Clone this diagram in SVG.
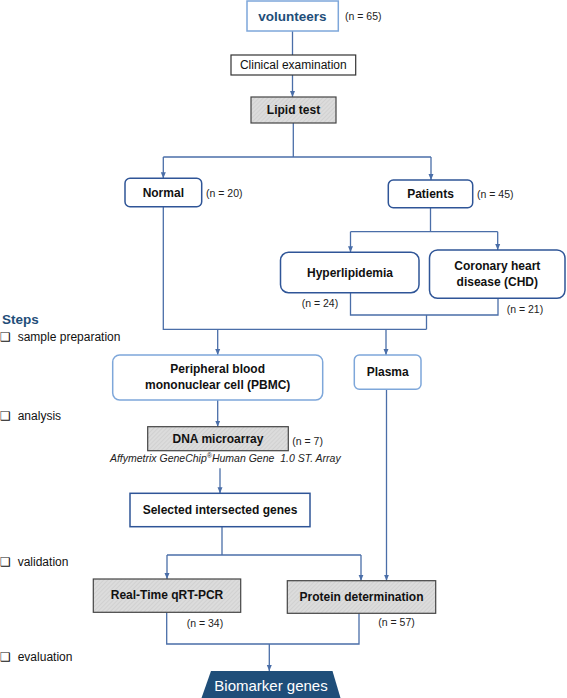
<svg xmlns="http://www.w3.org/2000/svg" width="567" height="698" viewBox="0 0 567 698">
<defs>
<pattern id="hatch" width="3" height="3" patternUnits="userSpaceOnUse" patternTransform="rotate(45)">
<rect width="3" height="3" fill="#dcdcdc"/>
<line x1="0" y1="0" x2="0" y2="3" stroke="#c6c6c6" stroke-width="1"/>
</pattern>
<marker id="arr" markerUnits="userSpaceOnUse" markerWidth="6" markerHeight="6" refX="6" refY="3" orient="auto">
<path d="M0,0.5 L6,3 L0,5.5 z" fill="#4a6ea8"/>
</marker>
</defs>
<style>
text{font-family:"Liberation Sans",Arial,sans-serif;fill:#111;dominant-baseline:central}
.c{text-anchor:middle}
.b{font-weight:bold;font-size:12px}
.n{font-size:10.5px;fill:#222}
.s{font-size:12px}
.box-light{fill:#fff;stroke:#7ea7da;stroke-width:1.5}
.box-dark{fill:#fff;stroke:#2f5597;stroke-width:1.5}
.box-gray{fill:url(#hatch);stroke:#444;stroke-width:1.2}
.box-plain{fill:#fff;stroke:#333;stroke-width:1.2}
.conn line,.conn polyline{stroke:#4a6ea8;stroke-width:1.3;fill:none}
.chk{font-family:"DejaVu Sans",sans-serif;font-size:12px}
</style>

<g class="conn">
<line x1="292.5" y1="31" x2="292.5" y2="55"/>
<line x1="292.5" y1="75" x2="292.5" y2="97" marker-end="url(#arr)"/>
<line x1="293.3" y1="123" x2="293.3" y2="157"/>
<line x1="163.3" y1="157" x2="431" y2="157"/>
<line x1="163.3" y1="157" x2="163.3" y2="178.3" marker-end="url(#arr)"/>
<line x1="431" y1="157" x2="431" y2="180" marker-end="url(#arr)"/>
<line x1="430.5" y1="207.7" x2="430.5" y2="231.7"/>
<line x1="350.5" y1="231.7" x2="497.7" y2="231.7"/>
<line x1="350.5" y1="231.7" x2="350.5" y2="252.3" marker-end="url(#arr)"/>
<line x1="497.7" y1="231.7" x2="497.7" y2="250" marker-end="url(#arr)"/>
<polyline points="350.5,292.7 350.5,315 498,315 498,298.3"/>
<line x1="426.5" y1="315" x2="426.5" y2="329.3"/>
<polyline points="163.3,206.7 163.3,329.3 426.5,329.3"/>
<line x1="217.7" y1="329.3" x2="217.7" y2="355" marker-end="url(#arr)"/>
<line x1="386" y1="329.3" x2="386" y2="355" marker-end="url(#arr)"/>
<line x1="217.7" y1="400" x2="217.7" y2="426.7" marker-end="url(#arr)"/>
<line x1="220" y1="468.3" x2="220" y2="493.3" marker-end="url(#arr)"/>
<line x1="222" y1="526.7" x2="222" y2="555"/>
<line x1="167" y1="555" x2="361" y2="555"/>
<line x1="167" y1="555" x2="167" y2="579" marker-end="url(#arr)"/>
<line x1="361" y1="555" x2="361" y2="580.7" marker-end="url(#arr)"/>
<line x1="386.5" y1="389.3" x2="386.5" y2="580.7" marker-end="url(#arr)"/>
<polyline points="166.7,612.3 166.7,644 359,644 359,613.3"/>
<line x1="269.3" y1="644" x2="269.3" y2="671" marker-end="url(#arr)"/>
</g>

<g id="volunteers">
<rect class="box-light" x="247" y="1" width="91.3" height="30"/>
<text class="c" x="292.5" y="16" style="font-weight:bold;font-size:13.5px;fill:#1f4e79">volunteers</text>
<text class="n" x="345" y="16">(n = 65)</text>
</g>
<g id="clinical">
<rect class="box-plain" x="231" y="55" width="124.7" height="20"/>
<text class="c s" x="293.3" y="65">Clinical examination</text>
</g>
<g id="lipid">
<rect class="box-gray" x="251" y="97" width="85" height="26"/>
<text class="c b" x="293.5" y="110">Lipid test</text>
</g>
<g id="normal">
<rect class="box-dark" x="125" y="178.3" width="76.7" height="28.4" rx="5"/>
<text class="c b" x="163.3" y="192.5">Normal</text>
<text class="n" x="206" y="192.5">(n = 20)</text>
</g>
<g id="patients">
<rect class="box-dark" x="388.3" y="180" width="84.4" height="27.7" rx="5"/>
<text class="c b" x="430.5" y="194">Patients</text>
<text class="n" x="477" y="194">(n = 45)</text>
</g>
<g id="hyperlipidemia">
<rect class="box-dark" x="280.5" y="252.3" width="138.5" height="40.4" rx="8"/>
<text class="c b" x="350" y="272.5">Hyperlipidemia</text>
<text class="n" x="301.7" y="303.3">(n = 24)</text>
</g>
<g id="chd">
<rect class="box-dark" x="429.5" y="250" width="135.5" height="48.3" rx="8"/>
<text class="c b" x="497.3" y="266">Coronary heart</text>
<text class="c b" x="497.3" y="281.7">disease (CHD)</text>
<text class="n" x="506.7" y="309.3">(n = 21)</text>
</g>
<g id="pbmc">
<rect class="box-light" x="112.7" y="355" width="210" height="45" rx="7"/>
<text class="c b" x="217.7" y="369.3">Peripheral blood</text>
<text class="c b" x="217.7" y="385">mononuclear cell (PBMC)</text>
</g>
<g id="plasma">
<rect class="box-light" x="354.3" y="355" width="66.7" height="34.3" rx="5"/>
<text class="c b" x="387.7" y="371.7">Plasma</text>
</g>
<g id="dna">
<rect class="box-gray" x="147.7" y="426.7" width="140.6" height="24"/>
<text class="c b" x="218" y="439">DNA microarray</text>
<text class="n" x="292.3" y="440.7">(n = 7)</text>
<text class="c" x="225.3" y="458.3" style="font-size:10.5px;font-style:italic;fill:#222" xml:space="preserve">Affymetrix GeneChip<tspan style="font-size:7px" dy="-3">®</tspan><tspan dy="3">Human Gene  1.0 ST. Array</tspan></text>
</g>
<g id="selected">
<rect class="box-dark" x="130" y="493.3" width="180" height="33.4"/>
<text class="c b" x="220" y="509.5">Selected intersected genes</text>
</g>
<g id="qrtpcr">
<rect class="box-gray" x="93.3" y="579" width="147.4" height="33.3"/>
<text class="c b" x="167" y="595">Real-Time qRT-PCR</text>
<text class="n" x="186.7" y="623.3">(n = 34)</text>
</g>
<g id="protein">
<rect class="box-gray" x="287.3" y="580.7" width="148.4" height="32.6"/>
<text class="c b" x="361.5" y="596.7">Protein determination</text>
<text class="n" x="378.3" y="621.7">(n = 57)</text>
</g>
<g id="biomarker">
<polygon points="211,671 332.5,671 340.5,698 201.5,698" fill="#1f4e79"/>
<text class="c" x="271" y="685" style="font-size:15px;fill:#fff">Biomarker genes</text>
</g>

<g id="steps">
<text x="2" y="319" style="font-weight:bold;font-size:13.5px;fill:#1f4e79">Steps</text>
<text class="chk" x="0" y="337">❑</text>
<text class="s" x="17.7" y="337">sample preparation</text>
<text class="chk" x="0" y="415.7">❑</text>
<text class="s" x="17.7" y="415.7">analysis</text>
<text class="chk" x="0" y="561.7">❑</text>
<text class="s" x="17.7" y="561.7">validation</text>
<text class="chk" x="0" y="657.3">❑</text>
<text class="s" x="17.7" y="657.3">evaluation</text>
</g>
</svg>
